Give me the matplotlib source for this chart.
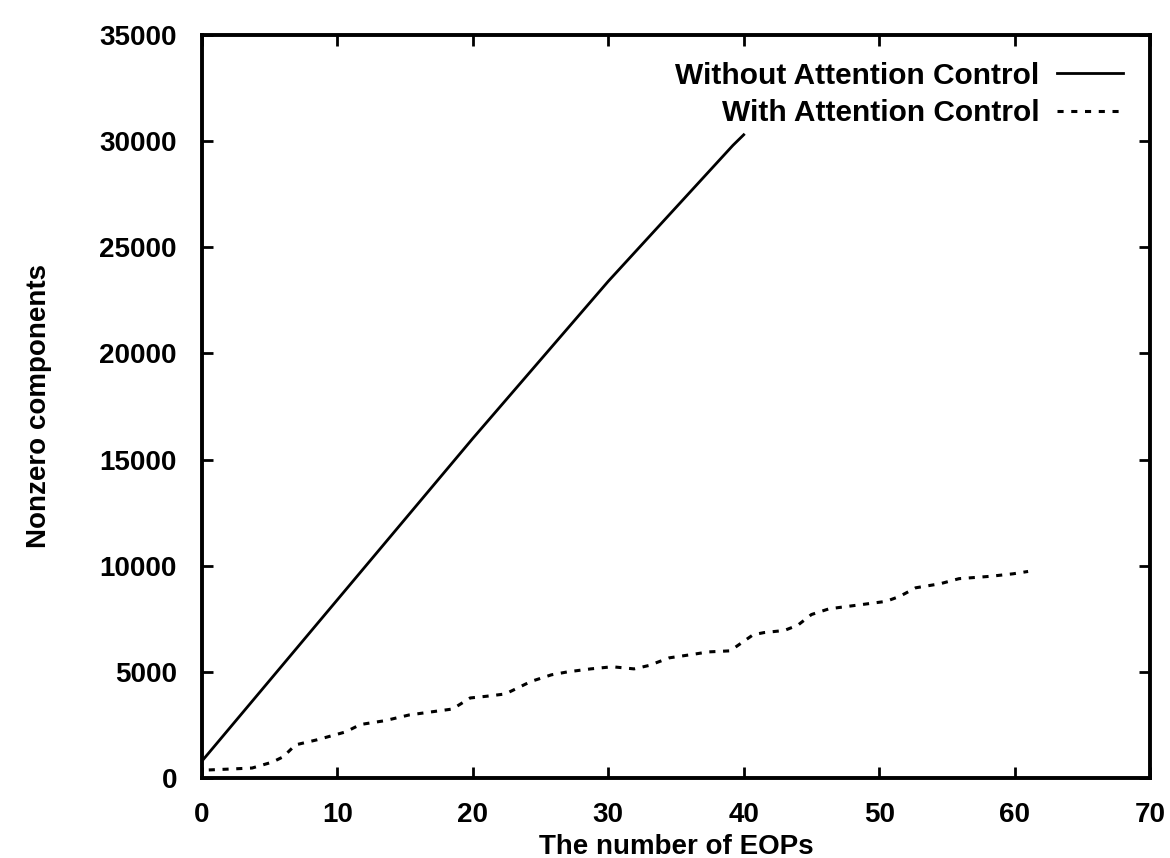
import matplotlib
matplotlib.use("Agg")
import matplotlib.pyplot as plt

# Without Attention Control (approx. linear growth)
eops_without = [0, 5, 10, 20, 30, 39.2, 40]
nonzero_without = [800, 4600, 8400, 16000, 23400, 29800, 30300]

# With Attention Control
eops_with = [0.5, 2, 3.7, 5.2, 6.0, 6.9, 8.5, 10.6, 11.7, 13.5, 15.3, 17, 18.5,
             19.8, 21, 22.4, 24.3, 25.8, 27, 28.7, 30.3, 31.9, 33, 34.5, 36,
             37.4, 39, 40.7, 41.5, 43, 44, 45, 46.3, 48.6, 50.5, 51.5, 52.7,
             54.5, 55.9, 58.2, 59.9, 61]
nonzero_with = [380, 420, 470, 750, 1000, 1560, 1800, 2170, 2520, 2700, 2970,
                3120, 3250, 3770, 3850, 3960, 4550, 4860, 5000, 5140, 5240,
                5140, 5300, 5660, 5800, 5940, 5990, 6750, 6850, 6950, 7200,
                7700, 7970, 8160, 8320, 8550, 8960, 9150, 9390, 9500, 9620, 9730]

x_ticks = [0, 10, 20, 30, 40, 50, 60, 70]
y_ticks = [0, 5000, 10000, 15000, 20000, 25000, 30000, 35000]

plt.rcParams['font.family'] = ['Liberation Sans', 'DejaVu Sans']
plt.rcParams['font.weight'] = 'bold'

fig = plt.figure(figsize=(11.7, 8.58), dpi=100)
ax = fig.add_axes([202 / 1170, 1 - 778 / 858, 948 / 1170, 743 / 858])

ax.plot(eops_without, nonzero_without, color='black', linewidth=2.0,
        label='Without Attention Control')
ax.plot(eops_with, nonzero_with, color='black', linewidth=2.2,
        linestyle=(0, (2, 2.5)), label='With Attention Control')

ax.set_xlim(0, 70)
ax.set_ylim(0, 35000)
ax.set_xticks(x_ticks)
ax.set_yticks(y_ticks)
ax.tick_params(direction='in', length=8, width=2, top=True, right=True,
               labelsize=20)
ax.tick_params(axis='x', pad=17)
ax.tick_params(axis='y', pad=18)
for sp in ax.spines.values():
    sp.set_linewidth(2.8)

ax.set_xlabel('The number of EOPs', fontsize=20, fontweight='bold')
ax.set_ylabel('Nonzero components', fontsize=20, fontweight='bold')
ax.xaxis.set_label_coords(0.5, -0.075)
ax.yaxis.set_label_coords(-0.158, 0.5)

leg = ax.legend(loc='upper right', frameon=False, markerfirst=False,
                fontsize=21.5, handlelength=2.2, handletextpad=0.6,
                labelspacing=0.32, borderaxespad=0.5, borderpad=0.4)
for t in leg.get_texts():
    t.set_fontweight('bold')

fig.savefig('out.png', dpi=100)
